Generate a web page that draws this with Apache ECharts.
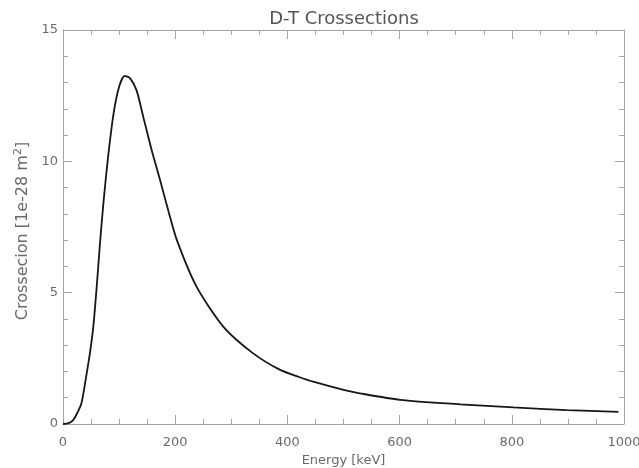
<!DOCTYPE html>
<html>
<head>
<meta charset="utf-8">
<script src="https://cdn.jsdelivr.net/npm/echarts@6/dist/echarts.min.js"></script>
<style>
  html, body { margin: 0; padding: 0; background: #fff; }
  #chart { width: 639px; height: 468px; }
</style>
</head>
<body>
<div id="chart"></div>
<script>
// D-T fusion cross section versus deuteron energy
const energyKeV = [0, 10, 18, 25, 33, 42, 48, 54, 60, 66, 72, 80, 90, 100, 110, 119, 131, 143, 158, 173, 188, 203, 238, 286, 339, 387, 422, 446, 500, 529, 601, 708, 803, 898, 990];
const crossSection = [0, 0.03, 0.15, 0.4, 0.8, 1.9, 2.7, 3.7, 5.2, 6.9, 8.4, 10.1, 11.8, 12.84, 13.25, 13.18, 12.71, 11.7, 10.43, 9.29, 8.1, 7.0, 5.23, 3.7, 2.69, 2.06, 1.78, 1.61, 1.3, 1.17, 0.92, 0.75, 0.63, 0.53, 0.46];

const xTicks = { min: 0, max: 1000, interval: 200 };
const yTicks = { min: 0, max: 15, interval: 5 };

const points = energyKeV.map((e, i) => [e, crossSection[i]]);

const axisGray = '#a3a3a3';
const textGray = '#6a6a6a';
const font = 'DejaVu Sans';

function frameAxis(extra) {
  return Object.assign({
    type: 'value',
    axisLine: { show: true, onZero: false, lineStyle: { color: axisGray, width: 1 } },
    axisTick: { show: true, inside: true, length: 9, lineStyle: { color: axisGray } },
    splitLine: { show: false },
    minorSplitLine: { show: false }
  }, extra);
}

const chart = echarts.init(document.getElementById('chart'), null, { renderer: 'canvas' });
chart.setOption({
  animation: false,
  backgroundColor: '#fff',
  title: {
    text: 'D-T Crossections',
    left: 339, top: 5, textAlign: 'center',
    textStyle: { fontFamily: font, fontSize: 18, fontWeight: 'normal', color: '#555' }
  },
  grid: { left: 63, right: 15, top: 30, bottom: 44, outerBoundsMode: 'none' },
  xAxis: [
    frameAxis({
      min: xTicks.min, max: xTicks.max, interval: xTicks.interval,
      minorTick: { show: true, splitNumber: 4, length: 5, lineStyle: { color: axisGray } },
      axisLabel: { show: true, color: textGray, fontFamily: font, fontSize: 13, margin: 12, formatter: v => String(v) },
      name: 'Energy [keV]', nameLocation: 'middle', nameGap: 27,
      nameTextStyle: { color: textGray, fontFamily: font, fontSize: 13 }
    }),
    frameAxis({
      position: 'top',
      min: xTicks.min, max: xTicks.max, interval: xTicks.interval,
      minorTick: { show: true, splitNumber: 4, length: 5, lineStyle: { color: axisGray } },
      axisLabel: { show: false }
    })
  ],
  yAxis: [
    frameAxis({
      min: yTicks.min, max: yTicks.max, interval: yTicks.interval,
      minorTick: { show: true, splitNumber: 5, length: 5, lineStyle: { color: axisGray } },
      axisLabel: { show: true, color: textGray, fontFamily: font, fontSize: 13, margin: 5 },
      name: '{t|Crossecion [1e-28 m}{s|2}{t|]}', nameLocation: 'middle', nameGap: 24,
      nameTextStyle: {
        color: textGray, fontFamily: font, fontSize: 16,
        padding: [0, 8, 0, 0],
        rich: {
          t: { color: textGray, fontFamily: font, fontSize: 16, lineHeight: 18, verticalAlign: 'bottom' },
          s: { color: textGray, fontFamily: font, fontSize: 11, lineHeight: 18, verticalAlign: 'top' }
        }
      }
    }),
    frameAxis({
      position: 'right',
      min: yTicks.min, max: yTicks.max, interval: yTicks.interval,
      minorTick: { show: true, splitNumber: 5, length: 5, lineStyle: { color: axisGray } },
      axisLabel: { show: false }
    })
  ],
  series: [{
    type: 'line',
    xAxisIndex: 0, yAxisIndex: 0,
    data: points,
    showSymbol: false,
    smooth: 0.25,
    lineStyle: { color: '#161616', width: 1.8 }
  }]
});
</script>
</body>
</html>
